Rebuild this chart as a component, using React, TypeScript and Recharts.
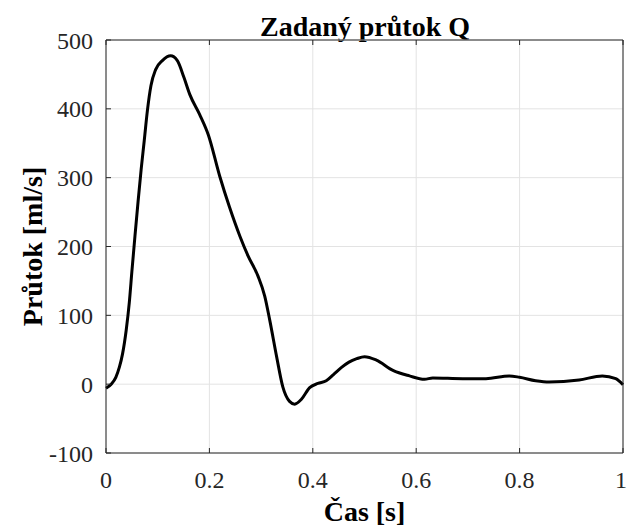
import { LineChart, Line, XAxis, YAxis, CartesianGrid } from "recharts"

const time = [
  0, 0.01, 0.019, 0.026, 0.032, 0.039, 0.045, 0.05, 0.056, 0.062, 0.068, 0.074, 0.08, 0.087, 0.096,
  0.109, 0.125, 0.138, 0.151, 0.162, 0.181, 0.198, 0.22, 0.239, 0.259, 0.275, 0.294, 0.307, 0.317,
  0.33, 0.342, 0.355, 0.365, 0.378, 0.394, 0.41, 0.426, 0.44, 0.455, 0.47, 0.485, 0.5, 0.523,
  0.555, 0.587, 0.616, 0.632, 0.69, 0.735, 0.78, 0.8, 0.831, 0.857, 0.915, 0.96, 0.986, 1.0,
]
const flow = [
  -6, 0, 10, 25, 44, 78, 118, 163, 215, 265, 312, 354, 397, 434, 457,
  470, 477, 470, 445, 421, 392, 362, 302, 257, 215, 186, 157, 128, 92,
  40, -4, -25, -29, -22, -5, 1, 5, 14, 24, 32, 37, 40, 35,
  20, 12, 7, 9, 8, 8, 12, 10, 5, 3, 6, 12, 8, -1,
]
const xTicks = [0, 0.2, 0.4, 0.6, 0.8, 1]
const yTicks = [-100, 0, 100, 200, 300, 400, 500]

const title = "Zadaný průtok Q"
const xLabel = "Čas [s]"
const yLabel = "Průtok [ml/s]"

const data = time.map((t, i) => ({ t, q: flow[i] }))

const FONT = "Liberation Serif, Times New Roman, serif"
const AXIS = "#262626"

const tickStyle = { fontSize: 24, fill: AXIS, fontFamily: FONT }
const axisLine = { stroke: AXIS, strokeWidth: 1 }
const tickLine = { stroke: AXIS, strokeWidth: 1 }

const XTitle = ({ viewBox }: any) => (
  <text
    x={viewBox.x + viewBox.width / 2}
    y={viewBox.y + 68}
    textAnchor="middle"
    fontFamily={FONT}
    fontWeight="bold"
    fontSize={28}
    fill="#000"
  >
    {xLabel}
  </text>
)

const YTitle = ({ viewBox }: any) => {
  const cx = 42
  const cy = viewBox.y + viewBox.height / 2
  return (
    <text
      x={cx}
      y={cy}
      transform={`rotate(-90, ${cx}, ${cy})`}
      textAnchor="middle"
      fontFamily={FONT}
      fontWeight="bold"
      fontSize={28}
      fill="#000"
    >
      {yLabel}
    </text>
  )
}

export default function App() {
  return (
    <div style={{ position: "absolute", left: 0, top: 0, width: 627, height: 530, background: "#fff" }}>
      <div
        style={{
          position: "absolute",
          left: 106,
          width: 518,
          top: 13,
          textAlign: "center",
          fontFamily: FONT,
          fontWeight: "bold",
          fontSize: 28,
          lineHeight: "28px",
          color: "#000",
          whiteSpace: "nowrap",
        }}
      >
        {title}
      </div>
      <LineChart width={627} height={530} data={data} margin={{ top: 39, right: 3, bottom: 0, left: 0 }}>
        <CartesianGrid stroke="#e3e3e3" strokeWidth={1} />
        <XAxis
          dataKey="t"
          type="number"
          domain={[0, 1]}
          ticks={xTicks}
          height={77}
          axisLine={axisLine}
          tickLine={tickLine}
          tickSize={-5}
          tickMargin={23}
          tick={tickStyle}
          tickFormatter={(v) => String(v)}
          label={{ content: <XTitle /> }}
        />
        <XAxis
          xAxisId="top"
          orientation="top"
          dataKey="t"
          type="number"
          domain={[0, 1]}
          ticks={xTicks}
          height={1}
          axisLine={axisLine}
          tickLine={tickLine}
          tickSize={-5}
          tickFormatter={() => ""}
        />
        <YAxis
          type="number"
          domain={[-100, 500]}
          ticks={yTicks}
          width={106}
          axisLine={axisLine}
          tickLine={tickLine}
          tickSize={-5}
          tickMargin={18}
          tick={tickStyle}
          label={{ content: <YTitle /> }}
        />
        <YAxis
          yAxisId="right"
          orientation="right"
          type="number"
          domain={[-100, 500]}
          ticks={yTicks}
          width={1}
          axisLine={axisLine}
          tickLine={tickLine}
          tickSize={-5}
          tickFormatter={() => ""}
        />
        <Line
          type="monotone"
          dataKey="q"
          stroke="#000"
          strokeWidth={3}
          dot={false}
          isAnimationActive={false}
        />
      </LineChart>
    </div>
  )
}
